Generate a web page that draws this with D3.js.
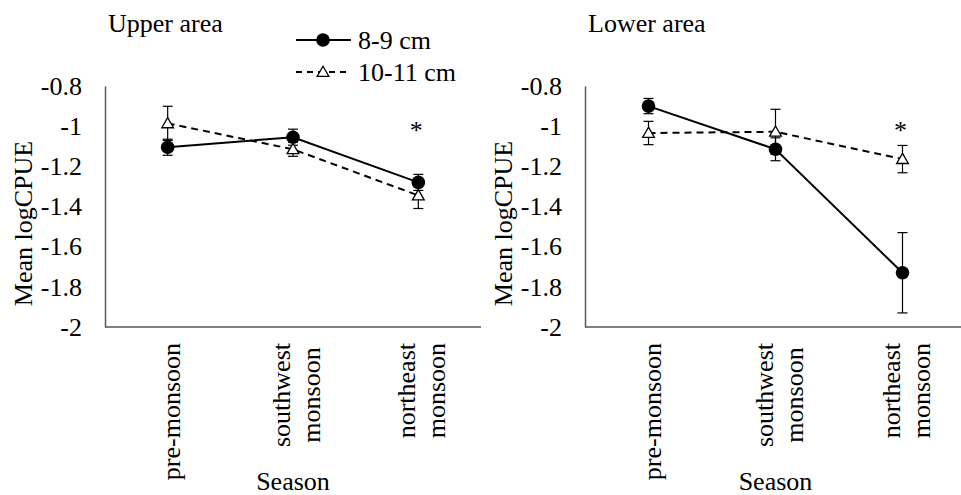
<!DOCTYPE html>
<html>
<head>
<meta charset="utf-8">
<script src="https://cdn.jsdelivr.net/npm/d3@7"></script>
<style>
  body { margin: 0; background: #fff; }
  svg text { font-family: "Liberation Serif", "Times New Roman", serif; fill: #000; }
</style>
</head>
<body>
<svg id="chart" width="961" height="495"></svg>
<script>
// seasons, each label split into its display lines
let seasons = ['pre-monsoon', 'southwest monsoon', 'northeast monsoon']
let seasonLines = [['pre-monsoon'], ['southwest', 'monsoon'], ['northeast', 'monsoon']]
let yTicks = [-0.8, -1, -1.2, -1.4, -1.6, -1.8, -2]
let seriesNames = ['8-9 cm', '10-11 cm']

// upper area
let upperSmall = [-1.105, -1.055, -1.28]
let upperSmallErr = [0.04, 0.04, 0.04]
let upperLarge = [-0.986, -1.115, -1.345]
let upperLargeErr = [0.085, 0.035, 0.065]

// lower area
let lowerSmall = [-0.90, -1.115, -1.73]
let lowerSmallErr = [0.038, 0.057, 0.2]
let lowerLarge = [-1.034, -1.028, -1.164]
let lowerLargeErr = [0.058, 0.112, 0.068]

// significance markers (index of season)
let starred = [2]

let svg = d3.select('#chart')
let fontSize = 26

let panels = [
  {title: 'Upper area', left: 105, width: 376, small: upperSmall, smallErr: upperSmallErr,
   large: upperLarge, largeErr: upperLargeErr, legend: true},
  {title: 'Lower area', left: 585, width: 381, small: lowerSmall, smallErr: lowerSmallErr,
   large: lowerLarge, largeErr: lowerLargeErr, legend: false}
]

let plotTop = 86, plotBottom = 327

panels.forEach(p => {
  let g = svg.append('g')

  let x = d3.scaleBand().domain(seasons).range([p.left, p.left + p.width])
  let y = d3.scaleLinear().domain([-2, -0.8]).range([plotBottom, plotTop])
  let cx = i => x(seasons[i]) + x.bandwidth() / 2

  // title
  g.append('text')
    .attr('x', p.left + 3)
    .attr('y', 32)
    .attr('font-size', fontSize + 'px')
    .text(p.title)

  // axes (Excel style: lines only, no ticks)
  let yAxis = g.append('g')
    .attr('transform', `translate(${p.left},0)`)
    .call(d3.axisLeft(y).tickValues(yTicks).tickSize(0).tickPadding(23))
  yAxis.select('.domain').attr('stroke', '#595959').attr('stroke-width', 1.5)
  yAxis.selectAll('text')
    .attr('font-size', fontSize + 'px')
    .attr('font-family', '"Liberation Serif", serif')
    .text(d => String(d))

  g.append('line')
    .attr('x1', p.left).attr('x2', p.left + p.width)
    .attr('y1', plotBottom).attr('y2', plotBottom)
    .attr('stroke', '#595959').attr('stroke-width', 1.5)

  // y axis title
  g.append('text')
    .attr('transform', `translate(${p.left - 73},${(plotTop + plotBottom) / 2 + 17}) rotate(-90)`)
    .attr('text-anchor', 'middle')
    .attr('font-size', fontSize + 'px')
    .text('Mean logCPUE')

  // category labels, rotated, lines centred on each other
  seasonLines.forEach((lines, i) => {
    let lg = g.append('g')
    let texts = lines.map((l, k) => lg.append('text')
      .attr('font-size', fontSize + 'px')
      .attr('text-anchor', 'middle')
      .attr('y', (k - (lines.length - 1) / 2) * 30 + 9)
      .text(l))
    let maxLen = d3.max(texts, t => t.node().getComputedTextLength())
    texts.forEach(t => t.attr('x', -maxLen / 2))
    lg.attr('transform', `translate(${cx(i) + 3},343) rotate(-90)`)
  })

  g.append('text')
    .attr('x', p.left + p.width / 2)
    .attr('y', 490)
    .attr('text-anchor', 'middle')
    .attr('font-size', fontSize + 'px')
    .text('Season')

  let line = d3.line().x((d, i) => cx(i)).y(d => y(d))

  // 10-11 cm dashed series
  g.append('path')
    .datum(p.large)
    .attr('d', line)
    .attr('fill', 'none').attr('stroke', '#000').attr('stroke-width', 2)
    .attr('stroke-dasharray', '7,5')

  // 8-9 cm solid series
  g.append('path')
    .datum(p.small)
    .attr('d', line)
    .attr('fill', 'none').attr('stroke', '#000').attr('stroke-width', 2)

  // error bars
  let errBars = (vals, errs) => {
    vals.forEach((v, i) => {
      let eg = g.append('g').attr('stroke', '#000').attr('stroke-width', 1.2)
      eg.append('line').attr('x1', cx(i)).attr('x2', cx(i))
        .attr('y1', y(v + errs[i])).attr('y2', y(v - errs[i]))
      ;[v + errs[i], v - errs[i]].forEach(e => {
        eg.append('line').attr('x1', cx(i) - 5).attr('x2', cx(i) + 5)
          .attr('y1', y(e)).attr('y2', y(e))
      })
    })
  }
  errBars(p.small, p.smallErr)
  errBars(p.large, p.largeErr)

  // markers
  let tri = d3.symbol().type(d3.symbolTriangle).size(60)
  g.selectAll('.tri')
    .data(p.large)
    .join('path')
    .attr('transform', (d, i) => `translate(${cx(i)},${y(d) + 1})`)
    .attr('d', tri)
    .attr('fill', '#fff').attr('stroke', '#000').attr('stroke-width', 1.3)

  g.selectAll('.dot')
    .data(p.small)
    .join('circle')
    .attr('cx', (d, i) => cx(i))
    .attr('cy', d => y(d))
    .attr('r', 6.8)
    .attr('fill', '#000')

  // asterisks
  starred.forEach(i => {
    g.append('text')
      .attr('x', cx(i) - 2)
      .attr('y', 139)
      .attr('text-anchor', 'middle')
      .attr('font-size', fontSize + 'px')
      .text('*')
  })

  // legend
  if (p.legend) {
    let lg = svg.append('g')
    let rows = [{y: 40, dash: null}, {y: 72, dash: '6,5'}]
    rows.forEach((r, k) => {
      lg.append('line')
        .attr('x1', 296).attr('x2', 351).attr('y1', r.y).attr('y2', r.y)
        .attr('stroke', '#000').attr('stroke-width', 2)
        .attr('stroke-dasharray', r.dash)
      if (k === 0) {
        lg.append('circle').attr('cx', 323).attr('cy', r.y).attr('r', 6.8).attr('fill', '#000')
      } else {
        lg.append('path')
          .attr('transform', `translate(323,${r.y + 1})`)
          .attr('d', tri)
          .attr('fill', '#fff').attr('stroke', '#000').attr('stroke-width', 1.3)
      }
      lg.append('text')
        .attr('x', 358).attr('y', r.y + 9)
        .attr('font-size', fontSize + 'px')
        .text(seriesNames[k])
    })
  }
})
</script>
</body>
</html>
